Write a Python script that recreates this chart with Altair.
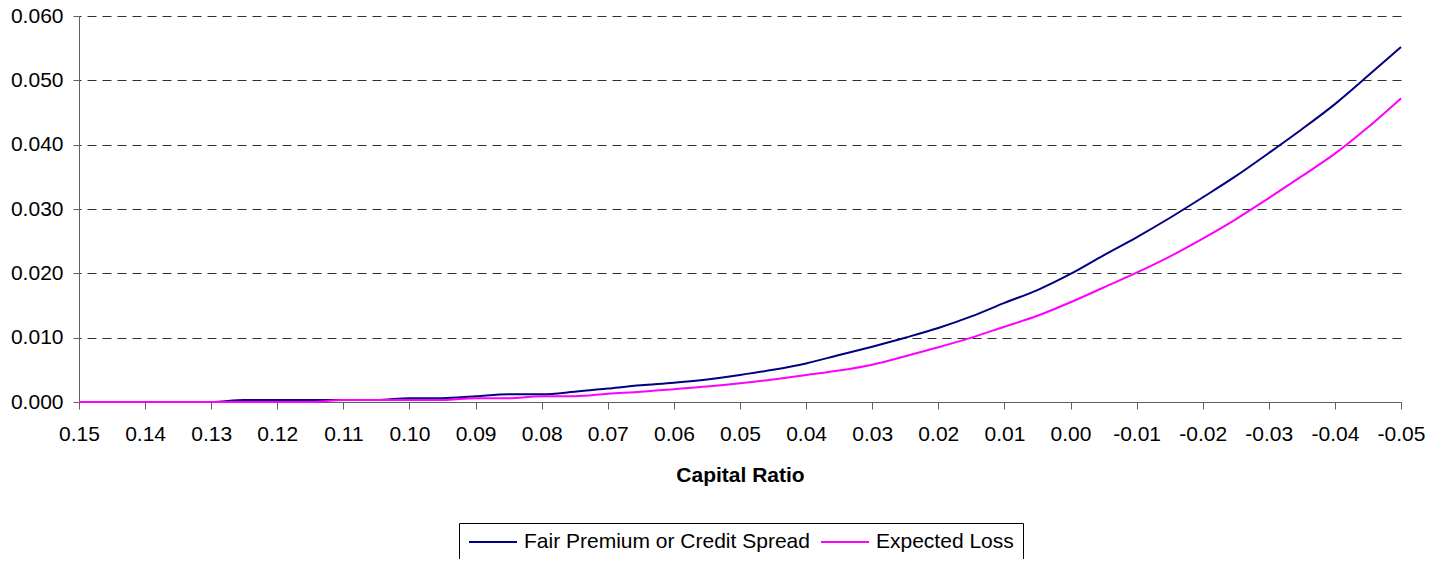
import altair as alt
import pandas as pd

capital_ratio = [0.150, 0.145, 0.140, 0.135, 0.130, 0.125, 0.120, 0.115, 0.110, 0.105,
                 0.100, 0.095, 0.090, 0.085, 0.080, 0.075, 0.070, 0.065, 0.060, 0.055,
                 0.050, 0.045, 0.040, 0.035, 0.030, 0.025, 0.020, 0.015, 0.010, 0.005,
                 0.000, -0.005, -0.010, -0.015, -0.020, -0.025, -0.030, -0.035, -0.040,
                 -0.045, -0.050]

fair_premium = [0.0, 0.0, 0.0, 0.0, 0.0, 0.0003, 0.0003, 0.0003, 0.0003, 0.0003,
                0.0006, 0.0006, 0.0009, 0.0012, 0.0012, 0.0016, 0.0021, 0.0026, 0.0030, 0.0035,
                0.0042, 0.0050, 0.0060, 0.0073, 0.0086, 0.0100, 0.0115, 0.0133, 0.0154, 0.0174,
                0.0199, 0.0228, 0.0256, 0.0286, 0.0318, 0.0351, 0.0387, 0.0424, 0.0463,
                0.0507, 0.0552]

expected_loss = [0.0, 0.0, 0.0, 0.0, 0.0, 0.0, 0.0, 0.0, 0.0003, 0.0003,
                 0.0003, 0.0003, 0.0006, 0.0006, 0.0009, 0.0009, 0.0013, 0.0016, 0.0020, 0.0024,
                 0.0029, 0.0035, 0.0042, 0.0049, 0.0058, 0.0071, 0.0085, 0.0100, 0.0117, 0.0134,
                 0.0155, 0.0178, 0.0201, 0.0226, 0.0254, 0.0284, 0.0317, 0.0351, 0.0386,
                 0.0427, 0.0472]

series_names = ["Fair Premium or Credit Spread", "Expected Loss"]
series_colors = ["#000080", "#FF00FF"]

x_ticks = [0.15, 0.14, 0.13, 0.12, 0.11, 0.10, 0.09, 0.08, 0.07, 0.06, 0.05,
           0.04, 0.03, 0.02, 0.01, 0.0, -0.01, -0.02, -0.03, -0.04, -0.05]
y_ticks = [0.0, 0.01, 0.02, 0.03, 0.04, 0.05, 0.06]

rows = []
for i, cr in enumerate(capital_ratio):
    rows.append({"cr": cr, "value": fair_premium[i], "series": series_names[0], "order": 0})
for i, cr in enumerate(capital_ratio):
    rows.append({"cr": cr, "value": expected_loss[i], "series": series_names[1], "order": 1})
df = pd.DataFrame(rows)

FONT = "Liberation Sans"

chart = alt.Chart(df).mark_line(strokeWidth=2, interpolate="monotone").encode(
    x=alt.X(
        "cr:Q",
        scale=alt.Scale(domain=[-0.05, 0.15], reverse=True, nice=False, zero=False),
        axis=alt.Axis(
            values=x_ticks,
            labelExpr="(datum.value < -0.0001 ? '-' : '') + format(abs(datum.value), '.2f')",
            title="Capital Ratio",
            titleFont=FONT, titleFontSize=21, titleFontWeight="bold", titleColor="black",
            titlePadding=20,
            labelFont=FONT, labelFontSize=21, labelColor="black", labelPadding=14,
            labelFlush=False, labelOverlap=False,
            tickSize=7, tickColor="#606060", domainColor="#606060", grid=False,
        ),
    ),
    y=alt.Y(
        "value:Q",
        scale=alt.Scale(domain=[0, 0.06], nice=False),
        axis=alt.Axis(
            values=y_ticks, format=".3f", title=None,
            labelFont=FONT, labelFontSize=21, labelColor="black", labelPadding=10,
            tickSize=6, tickColor="#606060", domainColor="#606060",
            grid=True, gridColor="#303030", gridDash=[9, 6], gridWidth=1,
        ),
    ),
    color=alt.Color(
        "series:N",
        scale=alt.Scale(domain=series_names, range=series_colors),
        legend=alt.Legend(
            title=None, orient="none", legendX=380, legendY=507,
            direction="horizontal", symbolType="stroke", symbolSize=2304,
            symbolStrokeWidth=2, clipHeight=20,
            labelFont=FONT, labelFontSize=21, labelColor="black",
            strokeColor="black", fillColor="white", padding=9, columnPadding=10,
            labelOffset=6, labelLimit=0,
        ),
    ),
    order=alt.Order("order:Q"),
).properties(
    width=1322,
    height=386,
    padding={"left": 71, "top": 8, "right": 30, "bottom": 157},
    autosize=alt.AutoSizeParams(type="none"),
).configure_view(stroke=None).configure_axis(domainWidth=1, tickWidth=1)

chart.save("out.html", embed_options={"renderer": "svg", "actions": False})
